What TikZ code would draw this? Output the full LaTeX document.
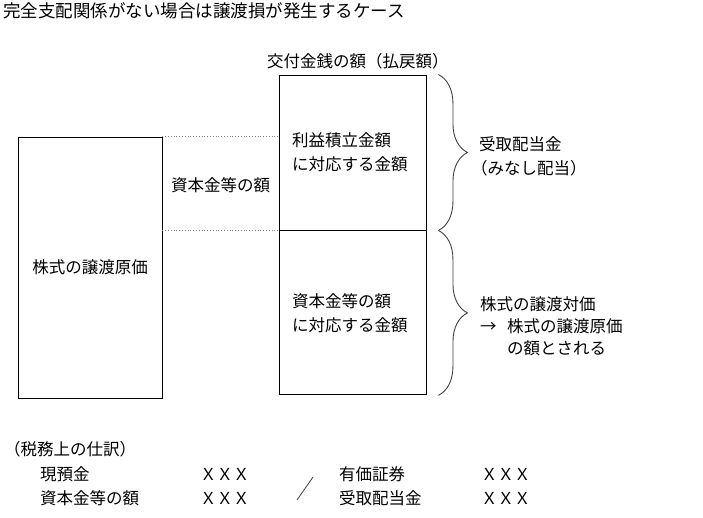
\documentclass[tikz,border=0pt]{standalone}
\usepackage{fontspec}
\setmainfont{Noto Sans CJK JP}
\usepackage{xcolor}
\usepackage{tikz}
\usetikzlibrary{positioning,decorations.pathreplacing,calc}

\begin{document}
\begin{tikzpicture}[x=1pt,y=-1pt,font=\fontsize{16.5}{24}\selectfont,
  block/.style={draw,line width=0.9pt},
  lbl/.style={inner sep=0pt,align=left,anchor=west},
  guide/.style={gray,dotted,line width=0.8pt},
  curly/.style={decorate,decoration={brace,amplitude=29pt},line width=0.9pt,black!75}]
\useasboundingbox (0,0) rectangle (703,518);
\node[lbl,font=\fontsize{17.5}{24}\selectfont] (title) at (3,11) {完全支配関係がない場合は譲渡損が発生するケース};
% boxes
\node[block,minimum width=144pt,minimum height=261pt] (cost) at (90,267.5) {株式の譲渡原価};
\node[block,minimum width=147pt,minimum height=155pt,text width=121pt,inner xsep=13pt,align=left] (retained) at (352.5,152.5)
  {利益積立金額\\に対応する金額};
\node[block,minimum width=147pt,minimum height=164pt,text width=121pt,inner xsep=13pt,align=left,below=0pt of retained] (capital)
  {資本金等の額\\に対応する金額};
\node[lbl] (paid) at (267,61) {交付金銭の額（払戻額）};
\node[inner sep=0pt] (capamt) at (220.5,185) {資本金等の額};
\draw[guide] (cost.north east) -- (cost.north east -| retained.west);
\draw[guide] (cost.east |- retained.south) -- (retained.south west);
% braces
\draw[curly] ([xshift=12pt]retained.north east) -- ([xshift=12pt]retained.south east);
\draw[curly] ([xshift=12pt]capital.north east) -- ([xshift=12pt]capital.south east);
\node[lbl] (dividend) at (479,156) {受取配当金\\\kern-8pt（みなし配当）};
\node[lbl,font=\fontsize{16.5}{22}\selectfont] (price) at (480,326)
  {株式の譲渡対価\\\makebox[27pt][l]{→}株式の譲渡原価\\\hspace*{27pt}の額とされる};
% journal entry
\node[lbl] (entry) at (4,449) {（税務上の仕訳）};
\node[lbl] (cash) at (40,474) {現預金};
\node[lbl] (capdebit) at (40,498) {資本金等の額};
\node[lbl] (securities) at (339,474) {有価証券};
\node[lbl] (divcredit) at (339,498) {受取配当金};
\foreach \x/\y/\n in {200/474/a,200/498/b,481/474/c,481/498/d}
  \node[lbl] (amt\n) at (\x,\y) {ＸＸＸ};
\coordinate (slashlo) at (297,500);
\coordinate (slashhi) at (313,477);
\draw[black!75,line width=0.8pt] (slashlo) -- (slashhi);
\end{tikzpicture}
\end{document}
